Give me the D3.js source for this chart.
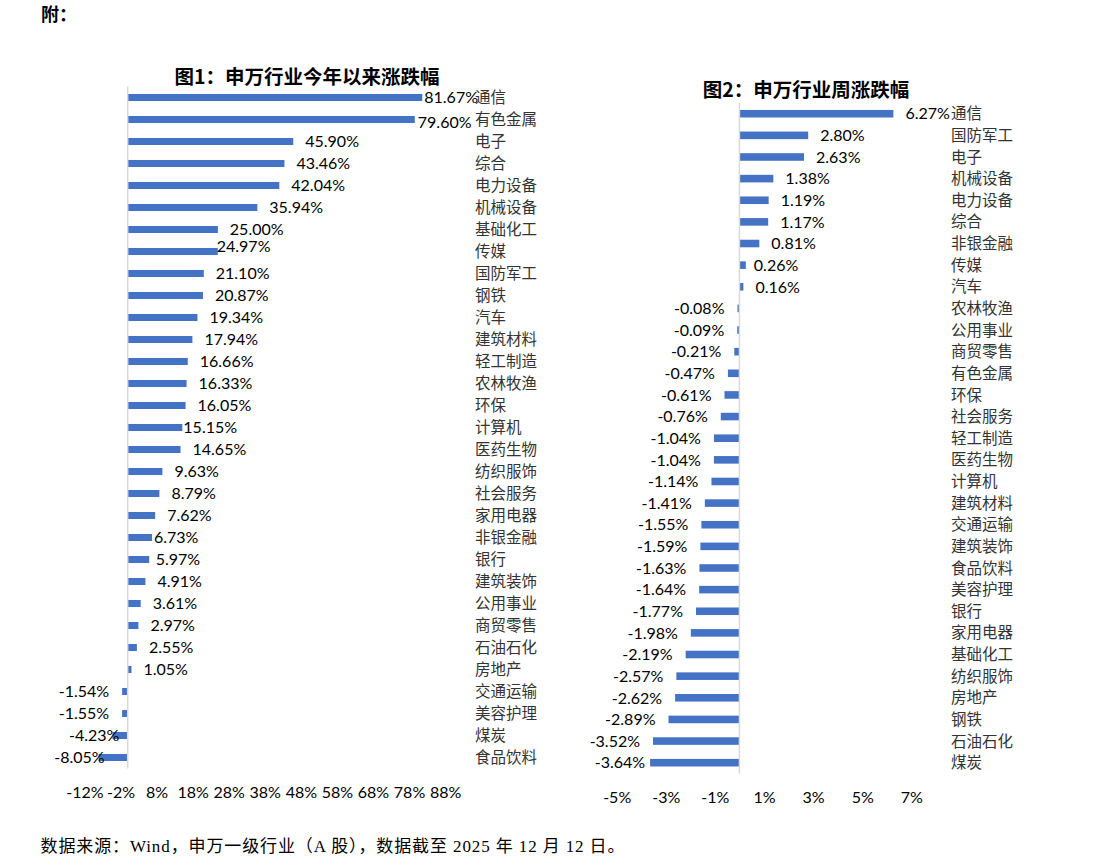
<!DOCTYPE html>
<html>
<head>
<meta charset="utf-8">
<script src="https://cdn.jsdelivr.net/npm/d3@7"></script>
<style>
  html, body { margin: 0; padding: 0; background: #ffffff; }
  svg { display: block; }
</style>
</head>
<body>
<svg id="chart" width="1110" height="864"></svg>
<script>
// ---- Data ----
const categories1 = ["通信","有色金属","电子","综合","电力设备","机械设备","基础化工","传媒","国防军工","钢铁","汽车","建筑材料","轻工制造","农林牧渔","环保","计算机","医药生物","纺织服饰","社会服务","家用电器","非银金融","银行","建筑装饰","公用事业","商贸零售","石油石化","房地产","交通运输","美容护理","煤炭","食品饮料"];
const values1 = [81.67,79.60,45.90,43.46,42.04,35.94,25.00,24.97,21.10,20.87,19.34,17.94,16.66,16.33,16.05,15.15,14.65,9.63,8.79,7.62,6.73,5.97,4.91,3.61,2.97,2.55,1.05,-1.54,-1.55,-4.23,-8.05];
const ticks1 = [-12,-2,8,18,28,38,48,58,68,78,88];

const categories2 = ["通信","国防军工","电子","机械设备","电力设备","综合","非银金融","传媒","汽车","农林牧渔","公用事业","商贸零售","有色金属","环保","社会服务","轻工制造","医药生物","计算机","建筑材料","交通运输","建筑装饰","食品饮料","美容护理","银行","家用电器","基础化工","纺织服饰","房地产","钢铁","石油石化","煤炭"];
const values2 = [6.27,2.80,2.63,1.38,1.19,1.17,0.81,0.26,0.16,-0.08,-0.09,-0.21,-0.47,-0.61,-0.76,-1.04,-1.04,-1.14,-1.41,-1.55,-1.59,-1.63,-1.64,-1.77,-1.98,-2.19,-2.57,-2.62,-2.89,-3.52,-3.64];
const ticks2 = [-5,-3,-1,1,3,5,7];

const title1 = "图1：申万行业今年以来涨跌幅";
const title2 = "图2：申万行业周涨跌幅";
const headerText = "附：";
const footerText = "数据来源：Wind，申万一级行业（A 股），数据截至 2025 年 12 月 12 日。";

// ---- Styles ----
const BAR = "#4472C4";
const NUMFONT = "Lato, 'Open Sans', sans-serif";
const CJKFONT = "'Noto Sans CJK SC', sans-serif";

const svg = d3.select("#chart");

svg.append("text").attr("x", 41).attr("y", 20.5)
  .style("font-family", CJKFONT).style("font-weight", "bold").style("font-size", "18px")
  .attr("fill", "#000").text(headerText);

svg.append("text").attr("x", 40.5).attr("y", 852)
  .attr("textLength", 584).attr("lengthAdjust", "spacing")
  .style("font-family", "'Liberation Serif', 'Noto Sans CJK SC', serif").style("font-size", "17px")
  .attr("fill", "#000").text(footerText);

function drawChart(opt) {
  const g = svg.append("g");
  const x = d3.scaleLinear().domain(opt.domain).range(opt.xRange);
  const y = d3.scaleBand().domain(opt.categories).range(opt.yRange)
    .paddingInner(opt.pad).paddingOuter(opt.pad / 2);
  const data = opt.categories.map((c, i) => ({ c, v: opt.values[i] }));

  // title
  g.append("text").attr("x", opt.titleX).attr("y", opt.titleY)
    .attr("text-anchor", "middle")
    .style("font-family", CJKFONT).style("font-weight", "bold").style("font-size", "19.5px")
    .attr("fill", "#000").text(opt.title);

  // bars
  g.selectAll("rect.bar").data(data).join("rect").attr("class", "bar")
    .attr("x", d => x(Math.min(0, d.v)))
    .attr("width", d => Math.abs(x(d.v) - x(0)))
    .attr("y", d => y(d.c))
    .attr("height", y.bandwidth())
    .attr("fill", BAR);

  // zero axis line
  g.append("line")
    .attr("x1", x(0)).attr("x2", x(0))
    .attr("y1", opt.yRange[0]).attr("y2", opt.yRange[1])
    .attr("stroke", "#d9d9d9").attr("stroke-width", 1.5);

  // value labels
  g.selectAll("text.val").data(data).join("text").attr("class", "val")
    .attr("x", d => {
      const n = (opt.nudge[d.c] || [0, 0])[0];
      return d.v >= 0 ? x(d.v) + 12 + n : x(d.v) - 13 + n;
    })
    .attr("y", d => y(d.c) + y.bandwidth() / 2 + (opt.nudge[d.c] || [0, 0])[1])
    .attr("dy", "0.36em")
    .attr("text-anchor", d => d.v >= 0 ? "start" : "end")
    .style("font-family", NUMFONT).style("font-size", "16px")
    .attr("fill", "#000")
    .text(d => d.v.toFixed(2) + "%");

  // category labels
  g.selectAll("text.cat").data(data).join("text").attr("class", "cat")
    .attr("x", opt.catX)
    .attr("y", d => y(d.c) + y.bandwidth() / 2)
    .attr("dy", "0.36em")
    .style("font-family", CJKFONT).style("font-size", "15.5px")
    .attr("fill", "#333")
    .text(d => d.c);

  // x axis tick labels
  const ax = g.append("g").attr("transform", `translate(0,${opt.tickY})`)
    .call(d3.axisBottom(x).tickValues(opt.ticks).tickSize(0).tickPadding(0)
      .tickFormat(d => d + "%"));
  ax.select(".domain").remove();
  ax.selectAll("text")
    .attr("dy", "0.36em").attr("y", 0)
    .style("font-family", NUMFONT).style("font-size", "16px")
    .attr("fill", "#000");
}

drawChart({
  categories: categories1, values: values1, ticks: ticks1,
  domain: [-12, 88], xRange: [84.4, 445.1], yRange: [86.5, 768.5], pad: 0.68,
  catX: 475, tickY: 792, title: title1, titleX: 307, titleY: 83.5,
  nudge: { "通信": [-10, 0], "有色金属": [-9, 2.5], "传媒": [-13, -5], "计算机": [-11, 0],
           "非银金融": [-10, 0], "银行": [-5.5, 0], "煤炭": [20, 0], "食品饮料": [19, 0] }
});

drawChart({
  categories: categories2, values: values2, ticks: ticks2,
  domain: [-5, 7], xRange: [616.7, 911.3], yRange: [102.9, 773.5], pad: 0.65,
  catX: 951, tickY: 797, title: title2, titleX: 806, titleY: 97,
  nudge: { "传媒": [-4, 0], "煤炭": [8, 0] }
});
</script>
</body>
</html>
